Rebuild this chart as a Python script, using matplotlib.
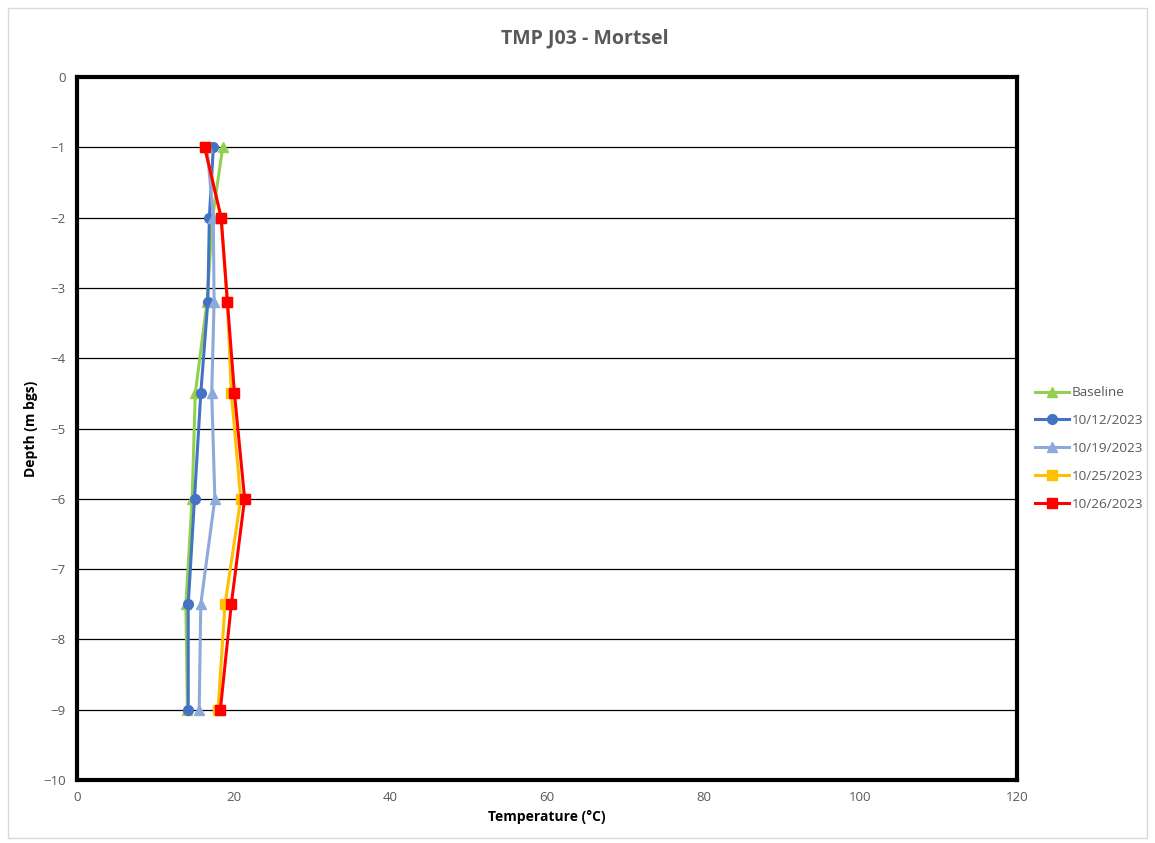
import matplotlib
matplotlib.use('Agg')
import matplotlib.pyplot as plt
from matplotlib.patches import Rectangle

#------------------------------------------------
# data
depth = [-1, -2, -3.2, -4.5, -6, -7.5, -9]
baseline = [18.6, 17.3, 16.6, 15.1, 14.7, 13.9, 14.1]
t_1012 = [17.4, 16.9, 16.7, 15.8, 15.0, 14.2, 14.2]
t_1019 = [16.6, 17.4, 17.5, 17.2, 17.6, 15.8, 15.6]
t_1025 = [16.3, 18.4, 19.2, 19.7, 20.9, 18.9, 18.0]
t_1026 = [16.3, 18.4, 19.2, 20.1, 21.4, 19.7, 18.3]

series = [
    ('Baseline', baseline, '#92D050', '^'),
    ('10/12/2023', t_1012, '#4472C4', 'o'),
    ('10/19/2023', t_1019, '#8EA9DB', '^'),
    ('10/25/2023', t_1025, '#FFC000', 's'),
    ('10/26/2023', t_1026, '#FF0000', 's'),
]

x_ticks = [0, 20, 40, 60, 80, 100, 120]
y_ticks = list(range(0, -11, -1))

plt.rcParams['font.family'] = ['Open Sans', 'DejaVu Sans']
grey = '#595959'

fig = plt.figure(figsize=(11.55, 8.43), dpi=100)
fig.patches.append(Rectangle((8/1155, 5/843), 1139/1155, 830/843, transform=fig.transFigure,
                             fill=False, ec='#D9D9D9', lw=1))

ax = fig.add_axes([77/1155, 63/843, 940/1155, 703/843])

for name, vals, col, mk in series:
    ax.plot(vals, depth, color=col, marker=mk, markersize=7, lw=2.2, label=name)

ax.set_xlim(0, 120)
ax.set_ylim(-10, 0)
ax.set_xticks(x_ticks)
ax.set_yticks(y_ticks)
ax.yaxis.grid(True, color='black', lw=0.9)
ax.set_axisbelow(True)
ax.tick_params(length=0, labelsize=9.5, colors=grey, pad=8)
for s in ax.spines.values():
    s.set_linewidth(3)
    s.set_color('black')

# title is centred on the whole chart, not on the plot area
fig.text(585/1155, 1 - 38/843, 'TMP J03 - Mortsel', fontsize=14, fontweight='bold',
         color=grey, ha='center', va='center')
ax.set_xlabel('Temperature (°C)', fontsize=10, fontweight='bold', color='black', labelpad=4)
ax.set_ylabel('Depth (m bgs)', fontsize=10, fontweight='bold', color='black', labelpad=4)

leg = fig.legend(loc='upper left', bbox_to_anchor=(1030/1155, 1 - 381/843), frameon=False,
                 fontsize=9.7, handlelength=2.5, labelspacing=1.1, handletextpad=0.2,
                 borderaxespad=0)
for t in leg.get_texts():
    t.set_color(grey)

fig.savefig('out.png', dpi=100)
